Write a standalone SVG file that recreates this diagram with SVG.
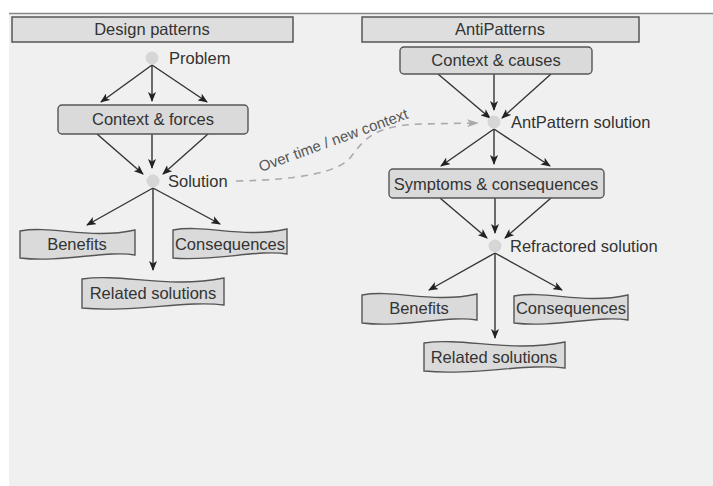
<svg xmlns="http://www.w3.org/2000/svg" width="713" height="486" viewBox="0 0 713 486">
<defs>
<marker id="ah" markerWidth="10" markerHeight="8" refX="9" refY="4" orient="auto" markerUnits="userSpaceOnUse">
<path d="M0,0 L10,4 L0,8 L2.5,4 Z" fill="#222"/>
</marker>
<marker id="ahg" markerWidth="12" markerHeight="8" refX="11" refY="4" orient="auto" markerUnits="userSpaceOnUse">
<path d="M0,0 L12,4 L0,8 L3,4 Z" fill="#aaa"/>
</marker>
</defs>
<style>
text{font-family:"Liberation Sans",Arial,sans-serif;font-size:16.5px;fill:#333}
.c{text-anchor:middle}
.hdr{fill:#dedede;stroke:#555;stroke-width:1.5}
.box{fill:#dadada;stroke:#555;stroke-width:1.4}
.tape{fill:#dadada;stroke:#555;stroke-width:1.4}
.dot{fill:#d6d6d6}
.ar{stroke:#333;stroke-width:1.4;fill:none;marker-end:url(#ah)}
.dash{stroke:#aaa;stroke-width:1.6;fill:none;stroke-dasharray:7 6;marker-end:url(#ahg)}
</style>
<rect x="0" y="0" width="713" height="486" fill="#fff"/>
<rect x="9" y="13" width="704" height="473" fill="#f0f0f0"/>
<line x1="9" y1="13.5" x2="713" y2="13.5" stroke="#888" stroke-width="1.5"/>

<g id="connectors">
<line class="ar" x1="152" y1="65" x2="101" y2="102"/>
<line class="ar" x1="152" y1="65" x2="152" y2="101"/>
<line class="ar" x1="152" y1="65" x2="207" y2="102"/>
<line class="ar" x1="97" y1="134" x2="143" y2="174"/>
<line class="ar" x1="152" y1="134" x2="152" y2="168"/>
<line class="ar" x1="208" y1="134" x2="163" y2="174"/>
<line class="ar" x1="153" y1="188" x2="87" y2="225"/>
<line class="ar" x1="153" y1="188" x2="153" y2="270"/>
<line class="ar" x1="153" y1="188" x2="220" y2="224"/>
<line class="ar" x1="438" y1="74" x2="490" y2="118"/>
<line class="ar" x1="494" y1="74" x2="494" y2="110"/>
<line class="ar" x1="551" y1="74" x2="502" y2="118"/>
<line class="ar" x1="494" y1="129" x2="441" y2="166"/>
<line class="ar" x1="494" y1="129" x2="494" y2="164"/>
<line class="ar" x1="494" y1="129" x2="550" y2="166"/>
<line class="ar" x1="440" y1="198" x2="487" y2="238"/>
<line class="ar" x1="495" y1="198" x2="495" y2="233"/>
<line class="ar" x1="551" y1="198" x2="505" y2="238"/>
<line class="ar" x1="495" y1="253" x2="429" y2="290"/>
<line class="ar" x1="495" y1="253" x2="495" y2="338"/>
<line class="ar" x1="495" y1="253" x2="562" y2="290"/>
<path class="dash" d="M236,181 C300,180 338,172 350,158 C364,140 372,126 420,124 L478,123"/>
<text x="261" y="172" transform="rotate(-20 261 172)" style="fill:#555;font-size:15px">Over time / new context</text>
</g>

<g id="design-patterns">
<rect class="hdr" x="12" y="17" width="281" height="25"/>
<text class="c" x="152" y="35">Design patterns</text>
</g>
<g id="problem">
<circle class="dot" cx="152" cy="58" r="6.5"/>
<text x="169" y="64">Problem</text>
</g>
<g id="context-forces">
<rect class="box" x="58" y="105" width="190" height="29" rx="4"/>
<text class="c" x="153" y="125">Context &amp; forces</text>
</g>
<g id="solution">
<circle class="dot" cx="153" cy="181" r="6.5"/>
<text x="168" y="187">Solution</text>
</g>
<g id="benefits-1">
<path class="tape" d="M20,231 C52,225 90,240 135,230 L135,255 C108,250 60,263 20,258 Z"/>
<text class="c" x="77" y="250">Benefits</text>
</g>
<g id="consequences-1">
<path class="tape" d="M173,230 C205,224 243,239 287,229 L287,254 C260,249 212,262 173,258 Z"/>
<text class="c" x="230" y="250">Consequences</text>
</g>
<g id="related-1">
<path class="tape" d="M82,279 C122,273 168,289 224,278 L224,305 C188,300 130,313 82,308 Z"/>
<text class="c" x="153" y="299">Related solutions</text>
</g>

<g id="antipatterns">
<rect class="hdr" x="362" y="17" width="277" height="25"/>
<text class="c" x="500" y="35">AntiPatterns</text>
</g>
<g id="context-causes">
<rect class="box" x="400" y="47" width="192" height="27" rx="4"/>
<text class="c" x="496" y="66">Context &amp; causes</text>
</g>
<g id="antpattern-solution">
<circle class="dot" cx="494" cy="122" r="6.5"/>
<text x="511" y="128">AntPattern solution</text>
</g>
<g id="symptoms">
<rect class="box" x="389" y="169" width="215" height="29" rx="4"/>
<text class="c" x="496" y="190">Symptoms &amp; consequences</text>
</g>
<g id="refractored-solution">
<circle class="dot" cx="495" cy="246" r="6.5"/>
<text x="510" y="252">Refractored solution</text>
</g>
<g id="benefits-2">
<path class="tape" d="M362,295 C394,289 432,304 477,294 L477,320 C450,315 402,328 362,323 Z"/>
<text class="c" x="419" y="314">Benefits</text>
</g>
<g id="consequences-2">
<path class="tape" d="M514,296 C546,290 584,305 628,295 L628,320 C601,315 553,328 514,323 Z"/>
<text class="c" x="571" y="314">Consequences</text>
</g>
<g id="related-2">
<path class="tape" d="M424,343 C464,337 510,353 565,342 L565,368 C529,363 471,376 424,371 Z"/>
<text class="c" x="494" y="363">Related solutions</text>
</g>
</svg>
